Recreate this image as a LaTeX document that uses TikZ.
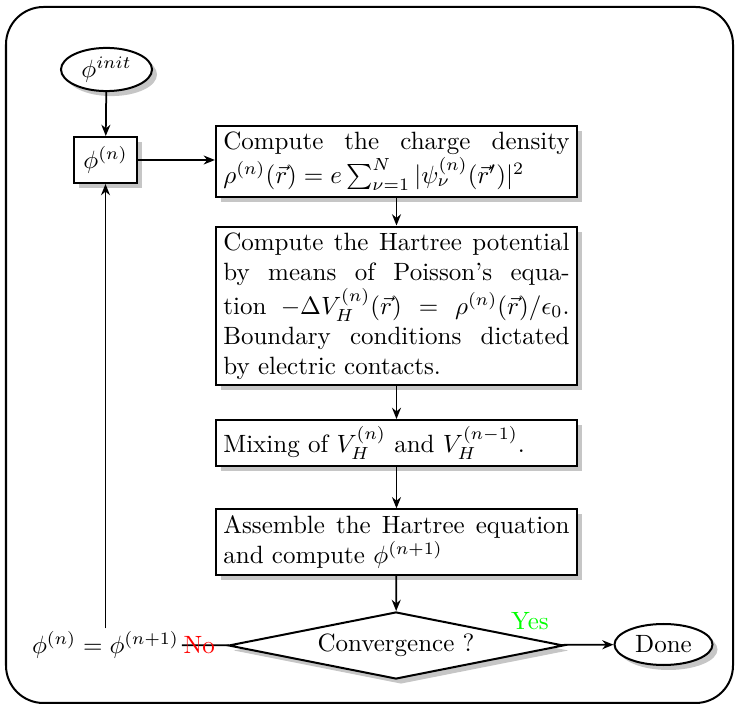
\documentclass[tikz,border=0pt]{standalone}
\usetikzlibrary{shapes.geometric,shadows,arrows.meta}
\begin{document}
\begin{tikzpicture}[x=0.4pt,y=-0.4pt,
  shad/.style={drop shadow={opacity=0.45,shadow xshift=2pt,shadow yshift=-2pt}},
  box/.style={draw, thick, fill=white, shad, text width=138.5pt, align=justify, inner xsep=3pt, inner ysep=2.5pt},
  smallbox/.style={draw, thick, fill=white, shad, minimum width=25.2pt, minimum height=18.4pt, inner sep=1pt},
  oval/.style={ellipse, draw, thick, fill=white, shad, inner sep=1pt},
  decision/.style={diamond, draw, thick, fill=white, shad, aspect=5, inner sep=0pt, minimum width=134pt, minimum height=26.8pt},
  conn/.style={line width=0.7pt, -{Stealth[length=4.5pt,width=3.6pt]}},
  plain/.style={line width=0.7pt},
  frame/.style={thick, rounded corners=15pt}
]
\useasboundingbox (0,0) rectangle (735,706);
\draw[frame] (6,7) rectangle (733,703);

\node[oval, minimum width=36.4pt, minimum height=17.2pt] (init) at (106.5,69.5) {$\phi^{init}$};
\node[smallbox] (phin) at (105.5,160) {$\phi^{(n)}$};

\node[box] (b1) at (396.5,161.5) {Compute the charge density\linebreak
$\rho^{(n)}(\vec{r}) = e\sum_{\nu=1}^{N}|\psi_\nu^{(n)}(\vec{r}')|^2$};

\node[box] (b2) at (396.5,306) {Compute the Hartree potential\linebreak
by means of Poisson's equa-\linebreak
tion $-\Delta V_H^{(n)}(\vec{r}) = \rho^{(n)}(\vec{r})/\epsilon_0$.\linebreak
Boundary conditions dictated\linebreak
by electric contacts.};

\node[box] (b3) at (396.5,443) {Mixing of $V_H^{(n)}$ and $V_H^{(n-1)}$.};

\node[box] (b4) at (396.5,542) {Assemble the Hartree equation\linebreak
and compute $\phi^{(n+1)}$};

\node[decision] (dec) at (396,645.5) {Convergence ?};
\node[oval, minimum width=39.2pt, minimum height=16.4pt] (done) at (663.5,644.5) {Done};
\node[inner sep=1pt] (upd) at (105.5,645) {$\phi^{(n)} = \phi^{(n+1)}$};
\node[text=green, inner sep=0pt] (yes) at (530,621) {Yes};

\draw[conn] (init) -- (phin);
\draw[conn] (phin) -- (phin -| b1.west);
\draw[conn] (b1) -- (b2);
\draw[conn] (b2) -- (b3);
\draw[conn] (b3) -- (b4);
\draw[conn] (b4) -- (dec);
\draw[conn] (dec) -- (done);
\draw[plain] (dec) -- node[pos=0.63, text=red, inner sep=0pt] (no) {No} (upd);
\draw[conn] (upd) -- (phin);
\end{tikzpicture}
\end{document}
